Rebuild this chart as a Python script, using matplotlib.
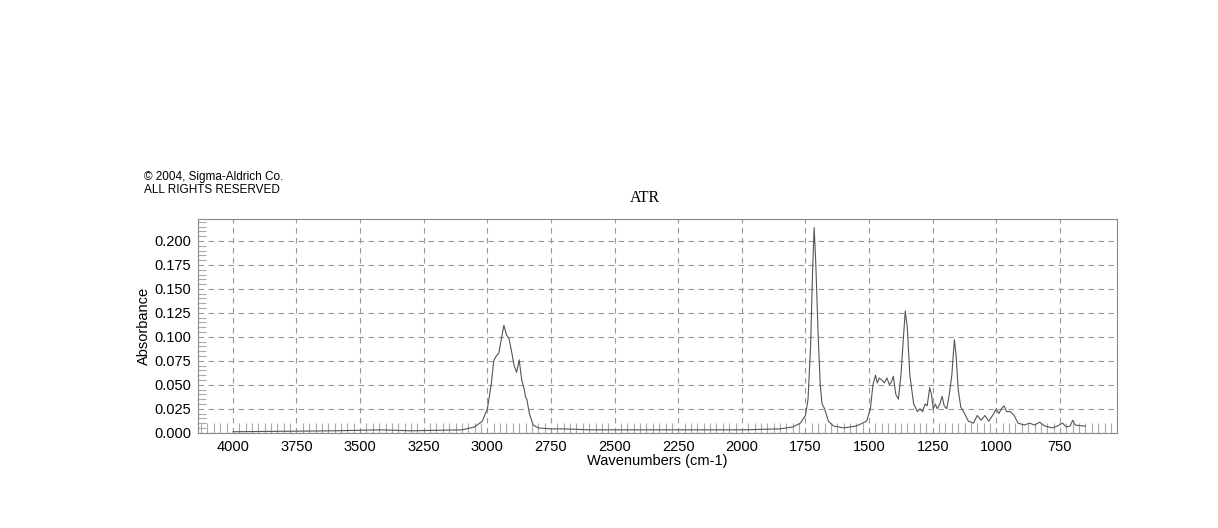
import matplotlib
matplotlib.use("Agg")
import matplotlib.pyplot as plt
from matplotlib.ticker import MultipleLocator

# spectrum (wavenumber cm-1, absorbance)
wavenumber = [4000, 3600, 3420, 3300, 3100, 3050, 3020, 3000, 2985, 2975, 2965, 2955,
              2945, 2935, 2925, 2915, 2905, 2895, 2885, 2875, 2865, 2855, 2850, 2845,
              2835, 2820, 2800, 2750, 2700, 2600, 2400, 2200, 2000, 1850, 1800, 1770,
              1750, 1740, 1730, 1722, 1716, 1710, 1700, 1692, 1685, 1675, 1660, 1640,
              1600, 1550, 1510, 1495, 1485, 1475, 1468, 1460, 1450, 1440, 1430, 1420,
              1412, 1405, 1395, 1385, 1375, 1365, 1358, 1350, 1340, 1325, 1310, 1300,
              1290, 1280, 1272, 1262, 1255, 1248, 1240, 1232, 1222, 1213, 1205, 1195,
              1185, 1175, 1165, 1158, 1150, 1140, 1125, 1110, 1090, 1075, 1060, 1045,
              1030, 1010, 1000, 990, 980, 970, 960, 945, 930, 915, 890, 870, 850, 830,
              810, 780, 760, 740, 725, 710, 700, 690, 660, 650]
absorbance = [0.001, 0.002, 0.003, 0.002, 0.003, 0.006, 0.012, 0.025, 0.050, 0.075, 0.080, 0.083,
              0.098, 0.112, 0.102, 0.098, 0.085, 0.070, 0.063, 0.076, 0.055, 0.045, 0.037, 0.035,
              0.020, 0.008, 0.005, 0.004, 0.004, 0.003, 0.003, 0.003, 0.003, 0.004, 0.006, 0.010,
              0.018, 0.035, 0.090, 0.170, 0.214, 0.180, 0.100, 0.050, 0.030, 0.025, 0.012, 0.007,
              0.005, 0.007, 0.012, 0.025, 0.050, 0.060, 0.052, 0.057, 0.055, 0.052, 0.057, 0.050,
              0.053, 0.059, 0.040, 0.035, 0.060, 0.100, 0.127, 0.110, 0.060, 0.030, 0.022, 0.025,
              0.022, 0.030, 0.028, 0.047, 0.040, 0.025, 0.030, 0.025, 0.030, 0.038, 0.028, 0.025,
              0.040, 0.060, 0.097, 0.080, 0.045, 0.027, 0.020, 0.012, 0.010, 0.018, 0.013, 0.018,
              0.012, 0.020, 0.025, 0.020, 0.025, 0.028, 0.022, 0.022, 0.018, 0.010, 0.008, 0.010,
              0.008, 0.011, 0.007, 0.005, 0.007, 0.010, 0.006, 0.007, 0.013, 0.008, 0.007, 0.007]

plt.rcParams["font.family"] = ["Liberation Sans", "DejaVu Sans"]

fig = plt.figure(figsize=(12.18, 5.28), dpi=100)
ax = fig.add_axes([198 / 1218, 1 - 433 / 528, 919 / 1218, 214 / 528])
ax.plot(wavenumber, absorbance, color="#555555", lw=0.8)
ax.set_xlim(4137, 526)
ax.set_ylim(-0.0003, 0.2229)

ax.xaxis.set_major_locator(MultipleLocator(250))
ax.xaxis.set_minor_locator(MultipleLocator(25))
ax.yaxis.set_major_locator(MultipleLocator(0.025))
ax.yaxis.set_minor_locator(MultipleLocator(0.005))
ax.yaxis.set_major_formatter(matplotlib.ticker.FormatStrFormatter("%.3f"))
ax.tick_params(which="major", direction="in", length=0, labelsize=10.5, pad=5)
ax.tick_params(which="minor", direction="in", length=7, color="#aaaaaa", width=0.8)
ax.tick_params(axis="y", which="minor", length=6)
ax.grid(which="major", ls=(0, (5, 4)), color="#999999", lw=0.8)
for s in ax.spines.values():
    s.set_color("#888888")

ax.set_xlabel("Wavenumbers (cm-1)", fontsize=10.5, labelpad=0)
ax.set_ylabel("Absorbance", fontsize=10.5, labelpad=2)
fig.text(645 / 1218, 1 - 198 / 528, "ATR", fontsize=11.5, ha="center", va="center",
         family="Liberation Serif")
fig.text(144 / 1218, 1 - 177 / 528, "© 2004, Sigma-Aldrich Co.", fontsize=8.5, va="center")
fig.text(144 / 1218, 1 - 190 / 528, "ALL RIGHTS RESERVED", fontsize=8.5, va="center")

fig.savefig("out.png", dpi=100)
